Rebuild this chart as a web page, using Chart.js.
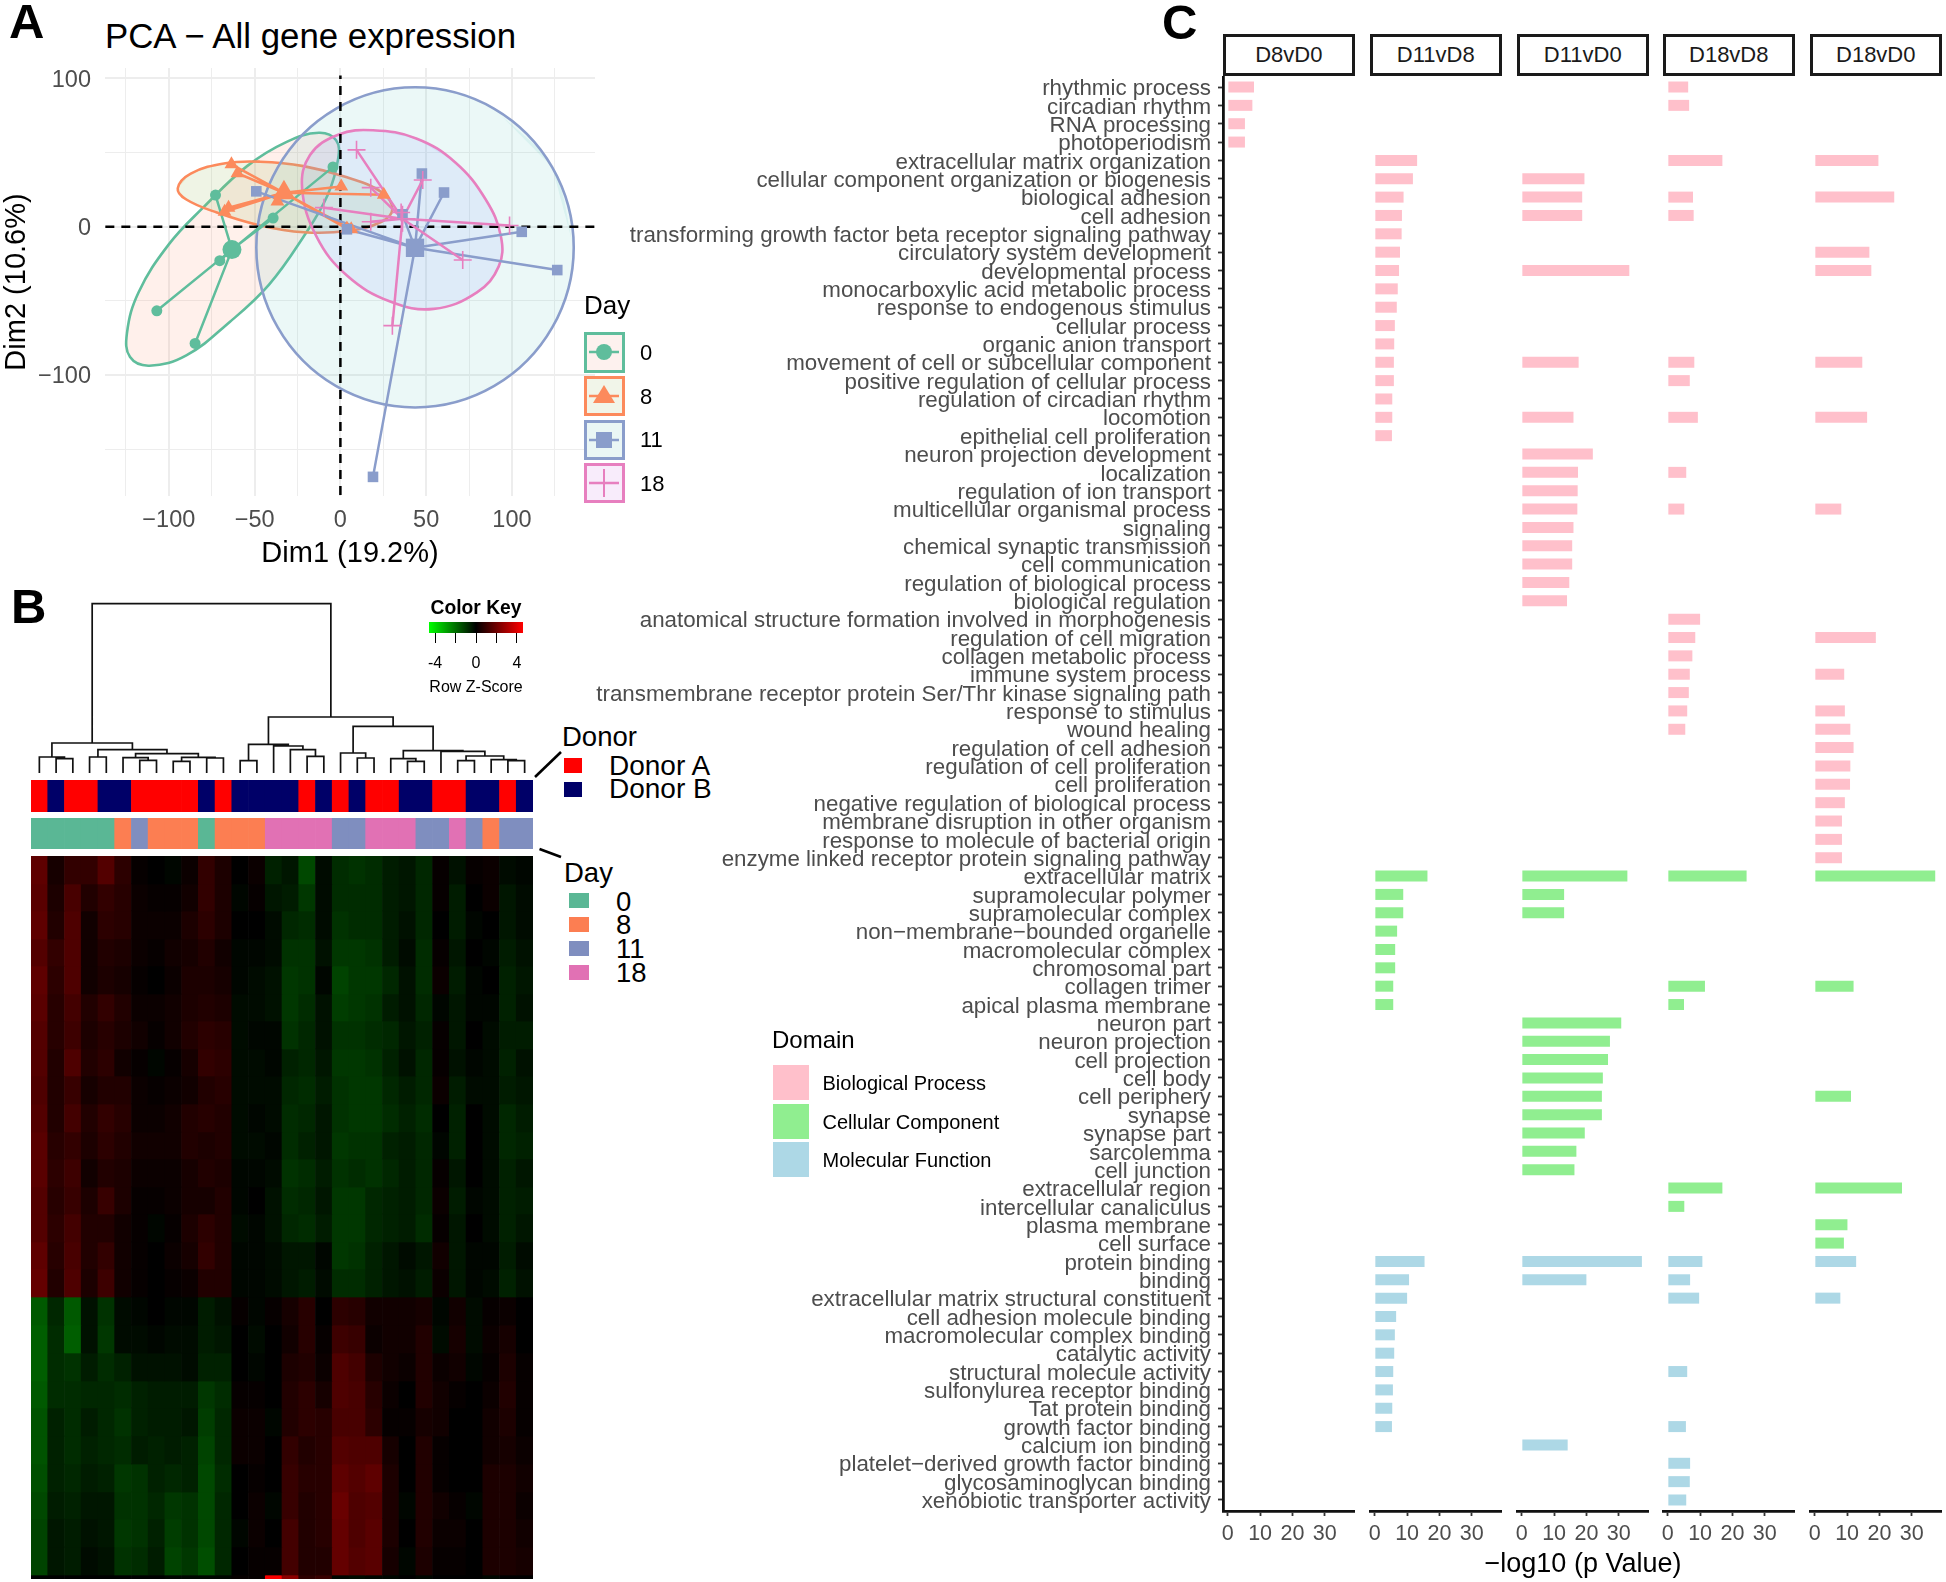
<!DOCTYPE html>
<html><head><meta charset="utf-8">
<script src="https://cdn.jsdelivr.net/npm/chart.js@4"></script>
<style>
html,body{margin:0;padding:0;background:#fff}
#root{position:relative;width:1946px;height:1582px;overflow:hidden;font-family:"Liberation Sans",Arial,sans-serif}
#root canvas{position:absolute;display:block}
.t{position:absolute;white-space:nowrap;line-height:1}
.box{position:absolute;box-sizing:border-box}
</style></head><body><div id="root"></div>
<script>
/* ---------- Panel A data: PCA (Dim1, Dim2) ---------- */
const dayNames=['0','8','11','18'];
const day0Points=[[-4.3,40.3],[-72.8,21.3],[-39.2,5.8],[-70.3,-23],[-107,-56.8],[-84.7,-78.8]];
const day8Points=[[-63.5,42],[-60,36],[0.5,27],[25.3,21.5],[-36.7,17],[-65.2,12.8],[-67.5,10],[3.8,-1.3],[6.3,-1.8]];
const day11Points=[[-49,23.8],[47.5,35.8],[60.4,23],[36.2,8.3],[105.7,-3.5],[126.4,-29.3],[19,-168.8],[3.8,-1.8]];
const day18Points=[[9.4,51.8],[17.7,26.3],[48,31.5],[-9.6,12.8],[17.7,3.3],[98.6,0.8],[71.3,-22.5],[30.3,-66.8],[35.4,9.5]];
const day0Centroid=[-63.2,-15.5], day8Centroid=[-32.9,22.8], day11Centroid=[43.5,-14.3], day18Centroid=[36.2,5.3];
const day0Outline=[[-12.6,63.3],[-2.5,58.3],[-1.3,45.8],[-7.6,20.8],[-21.5,-6.8],[-41.7,-39.3],[-64.5,-64.3],[-89.8,-86.8],[-111.3,-93.8],[-122.6,-88],[-124.4,-71.8],[-117.6,-44.3],[-99.9,-11.8],[-79.6,13.3],[-54.4,40.8],[-31.6,57]];
const day8Outline=[[-94.8,25.8],[-87.2,35.8],[-67,42.8],[-46.8,43.8],[-21.5,40.8],[3.8,33.3],[24,23.3],[30.3,12],[24,3.3],[3.8,-3],[-21.5,-3.8],[-46.8,0.8],[-72,9.5],[-89.8,18.3]];
const day11Outline=[[136,-14],[123.5,40],[89.7,79.5],[43.5,94],[-2.7,79.5],[-36.5,40],[-49,-14],[-36.5,-68],[-2.7,-107.5],[43.5,-122],[89.7,-107.5],[123.5,-68]];
const day18Outline=[[19,65],[44.2,59.5],[67,43.3],[84.7,18.3],[93.6,-6.8],[92.3,-26.8],[79.6,-44.3],[54.4,-55.5],[29,-50.5],[3.8,-33],[-13.9,-6.8],[-22.3,25.8],[-17.7,48.3],[-1.3,62]];
const pcaXTicks=[-125,-100,-75,-50,-25,0,25,50,75,100,125];
const pcaYTicks=[-150,-100,-50,0,50,100];
const pcaXLabelled=[-100,-50,0,50,100];
const pcaYLabelled=[-100,0,100];

/* ---------- Panel B data: heatmap (sample columns x gene bands, z-score x 10) ---------- */
const donorSeq=['A','B','A','A','B','B','A','A','A','A','B','A','B','B','B','B','A','B','A','B','A','A','B','B','A','A','B','B','A','B'];
const daySeq=[0,0,0,0,0,8,11,8,8,8,0,8,8,8,18,18,18,18,11,11,18,18,18,11,11,18,11,8,11,11];
const sampleIds=['1','2','3','4','5','6','7','8','9','10','11','12','13','14','15','16','17','18','19','20','21','22','23','24','25','26','27','28','29','30'];
const geneBandEdges=[0,28,55,83,110,138,165,193,220,248,276,303,331,358,386,413,441,469,497,525,552,580,608,636,663,691,719,723];
const geneBandZ=[
[17,4,9,9,15,8,1,0,-1,2,9,5,0,2,-6,-4,-13,-2,-8,-9,-8,-5,-4,-7,1,-3,1,2,-2,-1],
[16,5,13,6,9,7,2,1,1,3,9,5,-1,1,-4,-5,-10,-2,-8,-8,-8,-5,-4,-7,1,-5,0,2,-4,-2],
[17,6,14,3,8,7,2,2,2,5,8,5,0,0,-2,-7,-8,-2,-9,-8,-8,-5,-3,-7,0,-5,-1,0,-4,-2],
[15,9,14,3,6,5,2,1,3,4,6,3,-1,-1,-2,-9,-9,-3,-10,-10,-9,-5,-2,-8,1,-4,0,-1,-5,-3],
[17,8,14,3,5,4,1,0,2,5,5,4,-1,-2,-3,-10,-9,-1,-12,-10,-10,-7,-3,-8,2,-5,-1,0,-6,-4],
[16,7,12,6,9,6,2,2,3,5,6,5,-2,-2,-3,-10,-8,-3,-11,-10,-9,-5,-3,-7,-1,-4,-1,-1,-6,-3],
[15,7,11,5,7,5,3,1,3,6,8,7,-2,-1,-1,-9,-7,-3,-9,-9,-8,-7,-4,-6,1,-4,0,-2,-5,-5],
[15,6,14,6,8,3,1,-1,1,4,9,8,-2,-2,-1,-6,-7,-4,-10,-10,-9,-6,-3,-7,1,-3,-1,-2,-6,-3],
[14,6,10,4,6,6,2,1,2,3,6,7,-2,-2,-2,-7,-8,-5,-9,-10,-10,-7,-5,-7,2,-5,-2,-2,-5,-4],
[15,6,12,6,9,7,2,2,3,6,7,6,-2,-1,-2,-8,-7,-4,-9,-10,-10,-8,-6,-8,0,-6,0,-2,-7,-5],
[16,7,9,5,8,6,3,3,3,6,5,6,-2,-2,-1,-8,-6,-4,-10,-9,-9,-6,-5,-7,-1,-6,0,-2,-7,-6],
[16,8,11,3,6,5,2,2,2,4,6,5,-1,-1,-2,-9,-8,-5,-9,-8,-9,-7,-5,-7,1,-4,0,-2,-6,-4],
[15,7,10,5,10,5,1,1,2,4,4,6,-1,0,-3,-8,-7,-4,-10,-10,-7,-6,-5,-7,2,-5,-1,-2,-6,-5],
[15,8,12,6,6,3,1,-1,1,5,8,6,-2,-1,-3,-7,-8,-5,-10,-10,-7,-6,-5,-8,1,-4,0,-2,-6,-4],
[17,7,13,6,9,3,1,0,2,4,9,6,-1,-1,-2,-4,-4,-1,-10,-9,-6,-4,-2,-4,3,-4,-1,-1,-5,-2],
[18,6,14,5,11,3,1,0,1,2,6,6,-1,-1,-2,-4,-5,-2,-8,-8,-6,-4,-3,-5,2,-4,-1,-2,-6,-3],
[-16,-7,-16,-3,-9,-2,-1,0,-1,-1,-5,-3,1,-1,1,4,7,0,8,7,3,3,3,4,-1,3,-2,1,2,0],
[-17,-8,-17,-3,-10,-2,-2,-1,-2,-2,-5,-4,0,-2,0,3,7,1,11,10,2,3,3,6,-2,4,-2,2,4,0],
[-17,-8,-9,-5,-8,-6,-3,-3,-3,-2,-6,-6,0,-1,0,5,6,2,14,12,5,3,2,6,2,3,-1,1,5,1],
[-16,-8,-8,-7,-7,-8,-6,-5,-5,-5,-10,-8,1,1,0,6,8,4,14,13,7,2,0,6,3,1,0,2,6,1],
[-15,-6,-8,-5,-7,-9,-6,-5,-5,-4,-11,-7,2,2,-1,6,8,7,13,13,8,1,1,4,3,0,0,3,5,1],
[-15,-6,-8,-6,-7,-8,-5,-6,-5,-6,-12,-7,2,2,0,9,6,7,15,14,14,4,0,6,1,0,0,3,4,2],
[-14,-6,-7,-5,-6,-10,-9,-6,-7,-6,-13,-8,0,1,0,10,7,7,17,15,17,5,0,6,1,0,0,5,5,3],
[-13,-5,-6,-4,-4,-9,-9,-7,-10,-9,-13,-7,0,2,-1,10,6,7,19,14,15,5,-1,6,3,1,-1,5,5,2],
[-12,-4,-5,-3,-4,-10,-9,-6,-11,-9,-13,-7,-1,2,0,12,6,7,18,14,16,5,0,6,2,2,0,5,5,3],
[-12,-4,-5,-2,-3,-9,-8,-5,-12,-10,-14,-7,0,1,1,12,6,6,18,15,16,4,-1,5,1,1,0,5,5,4],
[0,0,0,0,0,0,0,0,-1,-1,-1,-1,1,1,45,25,8,10,-1,-2,-1,-1,0,-1,0,0,0,-1,0,0]
];
/* dendrogram merges: left leaf pos, right leaf pos, merge height, left child height, right child height */
const dendroMerges=[
[1,2,43,0,0],[0,1.5,48,0,43],[3,4,48,0,0],[6,7,38,0,0],[5,6.5,46,0,38],[8,9,35,0,0],[10,11,45,0,0],[8.5,10.5,47,35,45],
[5.75,9.5,58,46,47],[3.5,7.625,70,48,58],[0.75,5.56,90,48,70],
[12,13,37,0,0],[16,17,50,0,0],[15,16.5,70,0,50],[14,15.75,81,0,70],[12.5,14.875,86,37,81],
[19,20,45,0,0],[18,19.5,60,0,45],[22,23,35,0,0],[21,22.5,43,0,35],[25,26,37,0,0],[28,29,37,0,0],[27,28.5,40,0,37],
[25.5,27.75,51,37,40],[24,26.625,65,0,51],[21.75,25.31,67,43,65],[18.75,23.53,140,60,67],[13.69,21.14,168,86,140],[3.156,17.42,508,90,168]
];
const keyTicks=[-4,-2,0,2,4];
const keyLabelled=[-4,0,4];

/* ---------- Panel C data ---------- */
const goTerms=['rhythmic process','circadian rhythm','RNA processing','photoperiodism','extracellular matrix organization','cellular component organization or biogenesis','biological adhesion','cell adhesion','transforming growth factor beta receptor signaling pathway','circulatory system development','developmental process','monocarboxylic acid metabolic process','response to endogenous stimulus','cellular process','organic anion transport','movement of cell or subcellular component','positive regulation of cellular process','regulation of circadian rhythm','locomotion','epithelial cell proliferation','neuron projection development','localization','regulation of ion transport','multicellular organismal process','signaling','chemical synaptic transmission','cell communication','regulation of biological process','biological regulation','anatomical structure formation involved in morphogenesis','regulation of cell migration','collagen metabolic process','immune system process','transmembrane receptor protein Ser/Thr kinase signaling path','response to stimulus','wound healing','regulation of cell adhesion','regulation of cell proliferation','cell proliferation','negative regulation of biological process','membrane disruption in other organism','response to molecule of bacterial origin','enzyme linked receptor protein signaling pathway','extracellular matrix','supramolecular polymer','supramolecular complex','non\u2212membrane\u2212bounded organelle','macromolecular complex','chromosomal part','collagen trimer','apical plasma membrane','neuron part','neuron projection','cell projection','cell body','cell periphery','synapse','synapse part','sarcolemma','cell junction','extracellular region','intercellular canaliculus','plasma membrane','cell surface','protein binding','binding','extracellular matrix structural constituent','cell adhesion molecule binding','macromolecular complex binding','catalytic activity','structural molecule activity','sulfonylurea receptor binding','Tat protein binding','growth factor binding','calcium ion binding','platelet\u2212derived growth factor binding','glycosaminoglycan binding','xenobiotic transporter activity'];
const biologicalProcessCount=43, cellularComponentCount=21, molecularFunctionCount=14;
const facetNames=['D8vD0','D11vD8','D11vD0','D18vD8','D18vD0'];
/* [term number (1-based), -log10 p] */
const d8vd0=[[1,8.1],[2,7.6],[3,5.3],[4,5.3]];
const d11vd8=[[5,13.1],[6,11.8],[7,8.9],[8,8.4],[9,8.3],[10,7.8],[11,7.5],[12,7.1],[13,6.8],[14,6.2],[15,6],[16,5.9],[17,5.9],[18,5.4],[19,5.4],[20,5.3],[44,16.3],[45,8.8],[46,8.8],[47,6.9],[48,6.3],[49,6.3],[50,5.7],[51,5.7],[65,15.4],[66,10.6],[67,10],[68,6.6],[69,6.2],[70,6],[71,5.7],[72,5.6],[73,5.4],[74,5.3]];
const d11vd0=[[6,19.4],[7,18.7],[8,18.7],[11,33.3],[16,17.6],[19,16],[21,22],[22,17.4],[23,17.3],[24,17.2],[25,16],[26,15.6],[27,15.6],[28,14.7],[29,14],[44,32.7],[45,13.1],[46,13.1],[52,30.8],[53,27.3],[54,26.7],[55,25.1],[56,24.8],[57,24.8],[58,19.5],[59,16.9],[60,16.3],[65,37.2],[66,20],[75,14.2]];
const d18vd8=[[1,6.3],[2,6.6],[5,16.9],[7,7.8],[8,8],[16,8.2],[17,6.8],[19,9.3],[22,5.7],[24,5.1],[30,10],[31,8.5],[32,7.6],[33,6.8],[34,6.5],[35,6],[36,5.4],[44,24.4],[50,11.5],[51,5],[61,16.9],[62,5.1],[65,10.7],[66,6.9],[67,9.7],[71,6],[74,5.6],[76,6.9],[77,6.8],[78,5.7]];
const d18vd0=[[5,19.7],[7,24.6],[10,16.9],[11,17.5],[16,14.7],[19,16.2],[24,8.2],[31,18.9],[33,9.1],[35,9.3],[36,11],[37,12],[38,11],[39,10.9],[40,9.3],[41,8.4],[42,8.4],[43,8.4],[44,37.3],[50,12],[56,11.2],[61,27],[63,10.1],[64,9],[65,12.8],[67,7.9]];
const facetTicks=[0,10,20,30];

/* ---------- helpers ---------- */
const FONT='"Liberation Sans",Arial,sans-serif';
Chart.defaults.font.family=FONT;
const root=document.getElementById('root');
function mk(x,y,w,h,cfg){
  const c=document.createElement('canvas');
  c.width=w;c.height=h;c.style.left=x+'px';c.style.top=y+'px';c.style.width=w+'px';c.style.height=h+'px';
  root.appendChild(c);
  const o=cfg.options=cfg.options||{};
  o.responsive=false;o.animation=false;o.devicePixelRatio=1;
  o.layout=Object.assign({autoPadding:false,padding:0},o.layout||{});
  o.plugins=Object.assign({legend:{display:false},tooltip:{enabled:false}},o.plugins||{});
  o.events=[];
  return new Chart(c,cfg);
}
/* fix an axis' thickness and drop the margin Chart.js reserves for its end labels */
const fixAxis=(prop,size)=>s=>{s[prop]=size;s.paddingTop=s.paddingBottom=s.paddingLeft=s.paddingRight=0;};
function text(s,x,y,size,opt){
  opt=opt||{};
  const d=document.createElement('div');d.className='t';d.textContent=s;
  d.style.left=x+'px';d.style.top=y+'px';d.style.fontSize=size+'px';
  d.style.color=opt.color||'#000';if(opt.bold)d.style.fontWeight='bold';
  const tx=opt.align==='center'?'-50%':opt.align==='right'?'-100%':'0';
  d.style.transform='translate('+tx+',-50%)'+(opt.rot?' rotate('+opt.rot+'deg)':'');
  root.appendChild(d);return d;
}
function box(x,y,w,h,bg,border){
  const d=document.createElement('div');d.className='box';
  d.style.left=x+'px';d.style.top=y+'px';d.style.width=w+'px';d.style.height=h+'px';
  if(bg)d.style.background=bg;if(border)d.style.border=border;
  root.appendChild(d);return d;
}
const pts=a=>a.map(p=>({x:p[0],y:p[1]}));
const colors={day:['#5fbd9c','#fc8a5c','#8a9dcb','#e77fbf']};
const fills=['rgba(252,141,98,.13)','rgba(160,190,100,.17)','rgba(102,200,190,.13)','rgba(130,150,255,.13)'];
const legendFills=['#fdf1ee','#f1f5e9','#eaf6f5','#f8ecfb'];

/* ---------- Panel A ---------- */
const outlines=[day0Outline,day8Outline,day11Outline,day18Outline];
const groups=[day0Points,day8Points,day11Points,day18Points];
const centroids=[day0Centroid,day8Centroid,day11Centroid,day18Centroid];
const shapes=['circle','triangle','rect','cross'];
const smallR=[5.5,8,7.5,9], bigR=[9.5,13,13,13];
const ds=[];
outlines.forEach((o,i)=>{
  const n=o.length;
  ds.push({type:'scatter',showLine:true,data:pts(o.concat(o.slice(0,3))),borderColor:colors.day[i],backgroundColor:fills[i],fill:'shape',tension:i===2?.35:.4,borderWidth:2.6,pointRadius:0,order:40-i,clip:false,
    segment:{borderColor:c=>(c.p0DataIndex===0||c.p0DataIndex===n+1)?'rgba(0,0,0,0)':undefined}});
});
ds.push({type:'scatter',showLine:true,data:[{x:-137,y:0},{x:148,y:0}],borderColor:'#000',borderWidth:2.5,borderDash:[9,7],pointRadius:0,order:30});
ds.push({type:'scatter',showLine:true,data:[{x:0,y:-181},{x:0,y:102}],borderColor:'#000',borderWidth:2.5,borderDash:[9,7],pointRadius:0,order:30});
groups.forEach((g,i)=>{
  const seg=[];g.forEach(p=>{seg.push({x:centroids[i][0],y:centroids[i][1]},{x:p[0],y:p[1]},{x:null,y:null});});
  ds.push({type:'scatter',showLine:true,data:seg,borderColor:colors.day[i],borderWidth:2.5,pointRadius:0,spanGaps:false,order:20-i});
  ds.push({type:'scatter',showLine:false,data:pts(g),pointStyle:shapes[i],pointRadius:smallR[i],backgroundColor:colors.day[i],borderColor:colors.day[i],pointBorderWidth:i===3?1.6:0,order:10-i});
  ds.push({type:'scatter',showLine:false,data:pts([centroids[i]]),pointStyle:shapes[i],pointRadius:bigR[i],backgroundColor:colors.day[i],borderColor:colors.day[i],pointBorderWidth:i===3?1.6:0,order:5-i});
});
mk(0,68,596,505,{type:'scatter',data:{datasets:ds},options:{
  layout:{autoPadding:false,padding:{right:1}},
  scales:{
    x:{type:'linear',min:-137.2,max:148.4,
      afterBuildTicks:a=>{a.ticks=pcaXTicks.map(v=>({value:v}));},
      afterFit:fixAxis('height',77),
      grid:{color:'#ededed',drawTicks:false,lineWidth:c=>pcaXLabelled.includes(c.tick&&c.tick.value)?2:1},
      border:{display:false},
      ticks:{color:'#4d4d4d',font:{size:23.5},padding:10,maxRotation:0,autoSkip:false,
        callback:v=>pcaXLabelled.includes(v)?String(v).replace('-','\u2212'):''},
      title:{display:true,text:'Dim1 (19.2%)',color:'#000',font:{size:29},padding:{top:0,bottom:2}}},
    y:{type:'linear',min:-181.7,max:107,
      afterBuildTicks:a=>{a.ticks=pcaYTicks.map(v=>({value:v}));},
      afterFit:fixAxis('width',105),
      grid:{color:'#ededed',drawTicks:false,lineWidth:c=>pcaYLabelled.includes(c.tick&&c.tick.value)?2:1},
      border:{display:false},
      ticks:{color:'#4d4d4d',font:{size:23.5},padding:14,labelOffset:2,autoSkip:false,
        callback:v=>pcaYLabelled.includes(v)?String(v).replace('-','\u2212'):''},
      title:{display:true,text:'Dim2 (10.6%)',color:'#000',font:{size:29},padding:{top:0,bottom:0}}}
  }}});
text('A',9,21,49,{bold:true});
text('PCA \u2212 All gene expression',105,36,34.8);
text('Day',584,305,26);
const legY=[332,376,419.5,463];
dayNames.forEach((n,i)=>{
  const b=box(584,legY[i],40.5,i===0?41:40,legendFills[i],'3px solid '+colors.day[i]);
  const c=colors.day[i];
  let g;
  if(i===0)g='<circle cx="17" cy="17" r="8" fill="'+c+'"/>';
  if(i===1)g='<polygon points="17,6 28,24 6,24" fill="'+c+'"/>';
  if(i===2)g='<rect x="9" y="9" width="16" height="16" fill="'+c+'"/>';
  if(i===3)g='<line x1="17" y1="3" x2="17" y2="31" stroke="'+c+'" stroke-width="2"/>';
  b.innerHTML='<svg width="35" height="35" style="position:absolute;left:0;top:0"><line x1="2" y1="17" x2="32" y2="17" stroke="'+c+'" stroke-width="2.5"/>'+g+'</svg>';
  text(n,640,legY[i]+20.5,22);
});

/* ---------- Panel B ---------- */
const dendroData=[];
dendroMerges.forEach(m=>{dendroData.push({x:m[0],y:m[3]},{x:m[0],y:m[2]},{x:m[1],y:m[2]},{x:m[1],y:m[4]},{x:null,y:null});});
mk(31,600,502,173,{type:'scatter',data:{datasets:[{showLine:true,data:dendroData,borderColor:'#111',borderWidth:1.7,pointRadius:0,spanGaps:false,clip:false}]},
  options:{scales:{x:{type:'linear',min:-0.5,max:29.5,display:false},y:{type:'linear',min:0,max:519,display:false}}}});
const stripOpts=()=>({datasets:{bar:{grouped:false,barPercentage:1,categoryPercentage:1}},scales:{x:{type:'category',display:false},y:{type:'linear',min:0,max:1,display:false}}});
const dayHex={0:'#5ab795',8:'#fc7e52',11:'#7f8ebf',18:'#e171b4'};
mk(31,780,502,32,{type:'bar',data:{labels:sampleIds,datasets:[{data:donorSeq.map(()=>[0,1]),backgroundColor:donorSeq.map(d=>d==='A'?'#ff0000':'#000068')}]},options:stripOpts()});
mk(31,818,502,31,{type:'bar',data:{labels:sampleIds,datasets:[{data:daySeq.map(()=>[0,1]),backgroundColor:daySeq.map(d=>dayHex[d])}]},options:stripOpts()});
const zColor=z=>{const v=z/10,k=Math.min(255,Math.round(Math.abs(v)/4.6*255));return v>=0?'rgb('+k+',0,0)':'rgb(0,'+k+',0)';};
mk(31,856,502,723,{type:'bar',data:{labels:sampleIds,datasets:geneBandZ.map((row,i)=>({data:row.map(()=>[geneBandEdges[i],geneBandEdges[i+1]]),backgroundColor:row.map(zColor)}))},
  options:{datasets:{bar:{grouped:false,barPercentage:1,categoryPercentage:1}},scales:{x:{type:'category',display:false},y:{type:'linear',reverse:true,min:0,max:723,display:false}}}});
/* colour key */
mk(420,622,112,56,{type:'bar',data:{labels:['Row Z-Score'],datasets:[{data:[[-4.6,4.6]],barPercentage:1,categoryPercentage:1,
  backgroundColor:c=>{const a=c.chart.chartArea;if(!a)return '#000';const g=c.chart.ctx.createLinearGradient(a.left,0,a.right,0);g.addColorStop(0,'#00ff00');g.addColorStop(.5,'#000');g.addColorStop(1,'#ff0000');return g;}}]},
  options:{indexAxis:'y',layout:{autoPadding:false,padding:{left:9,right:9}},scales:{
    y:{type:'category',display:false},
    x:{type:'linear',min:-4.6,max:4.6,afterBuildTicks:a=>{a.ticks=keyTicks.map(v=>({value:v}));},afterFit:fixAxis('height',45),
      grid:{drawOnChartArea:false,tickLength:10,tickColor:'#000',tickWidth:1},border:{display:false},
      ticks:{color:'#000',font:{size:16},padding:11,maxRotation:0,autoSkip:false,callback:v=>keyLabelled.includes(v)?String(v):''}}}}});
text('B',11,606,49,{bold:true});
text('Color Key',476,608,19.3,{bold:true,align:'center'});
text('Row Z-Score',476,687,16,{align:'center'});
text('Donor',562,737,27.5);
box(564,758,18,15,'#ff0000');box(564,782,18,15,'#000068');
text('Donor A',609,766,28);text('Donor B',609,789,28);
text('Day',564,873,27.5);
dayNames.forEach((n,i)=>{
  const ys=[893,917,941,965];
  box(569,ys[i],20,15,dayHex[+n]);
  text(n,616,[902,925,949,973][i],27.5);
});
const con=document.createElementNS('http://www.w3.org/2000/svg','svg');
con.setAttribute('width',70);con.setAttribute('height',120);
con.style.cssText='position:absolute;left:530px;top:745px';
con.innerHTML='<line x1="5" y1="32" x2="31" y2="7" stroke="#000" stroke-width="2.6"/><line x1="9.5" y1="104" x2="31" y2="112" stroke="#000" stroke-width="2.6"/>';
root.appendChild(con);

/* ---------- Panel C ---------- */
const facetData=[d8vd0,d11vd8,d11vd0,d18vd8,d18vd0];
const facetLefts=[1223,1370,1517,1663,1810];
const domainColor=i=>i<biologicalProcessCount?'#ffc0cb':i<biologicalProcessCount+cellularComponentCount?'#90ee90':'#add8e6';
facetData.forEach((f,k)=>{
  const first=k===0;
  const pad=first?633:12;
  const xAxisOpts={type:'linear',min:-1.5,max:39.09,
    afterBuildTicks:a=>{a.ticks=facetTicks.map(v=>({value:v}));},afterFit:fixAxis('height',40),
    grid:{drawOnChartArea:false,tickLength:5,tickColor:'#333',tickWidth:1.8},
    border:{display:true,color:'#111',width:2.8},
    ticks:{color:'#4d4d4d',font:{size:21.5},padding:5,maxRotation:0,autoSkip:false}};
  const yAxisOpts=first?{type:'linear',offset:false,reverse:true,min:-0.6,max:77.6,
    afterBuildTicks:a=>{a.ticks=goTerms.map((_,i)=>({value:i}));},afterFit:fixAxis('width',633),
    grid:{drawOnChartArea:false,offset:false,tickLength:5,tickColor:'#333',tickWidth:1.8},
    border:{display:true,color:'#111',width:2.8},
    ticks:{color:'#4d4d4d',font:{size:22.35},padding:7,labelOffset:2,autoSkip:false,callback:v=>goTerms[v]}}
    :{type:'linear',offset:false,reverse:true,min:-0.6,max:77.6,display:false};
  mk(facetLefts[k]-pad,76,pad+131+14,1475,{type:'bar',data:{datasets:[{
      data:f.map(r=>({x:r[1],y:r[0]-1})),
      backgroundColor:f.map(r=>domainColor(r[0]-1)),
      barThickness:11,inflateAmount:0}]},
    options:{indexAxis:'y',layout:{autoPadding:false,padding:{left:first?0:12,right:14}},
      scales:{x:xAxisOpts,y:yAxisOpts}}});
  const s=box(facetLefts[k],33.5,131.5,42.5,'#fff','3px solid #1a1a1a');
  text(facetNames[k],facetLefts[k]+65.75,55,22,{align:'center',color:'#1a1a1a'});
});
text('C',1162,22,49,{bold:true});
text('\u2212log10 (p Value)',1583,1563,27,{align:'center'});
text('Domain',772,1040,24);
[['Biological Process','#ffc0cb',1065,1083],['Cellular Component','#90ee90',1103.5,1121.5],['Molecular Function','#add8e6',1142,1160]].forEach(r=>{
  box(772.5,r[2],36,35,r[1]);
  text(r[0],822.5,r[3],20);
});
</script></body></html>
